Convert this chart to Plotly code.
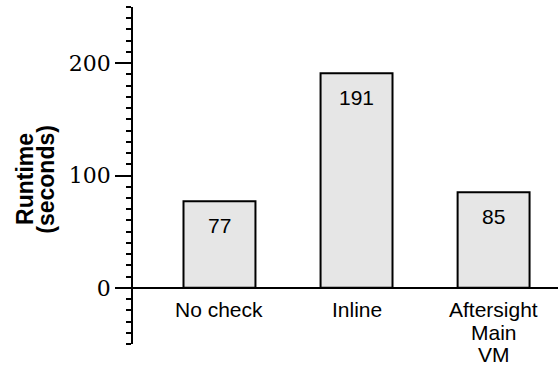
import plotly.graph_objects as go

categories = ["No check", "Inline", "Aftersight<br>Main<br>VM"]
runtimes = [77, 191, 85]
y_tick_vals = [0, 100, 200]
y_tick_text = ["0", "100", "200"]
y_title_lines = ["Runtime", "(seconds)"]

SANS = "Liberation Sans, Arial, sans-serif"
SERIF = "DejaVu Serif, serif"

fig = go.Figure()
fig.add_trace(go.Bar(
    x=list(range(len(categories))),
    y=runtimes,
    width=0.525,
    marker=dict(color="#e6e6e6", line=dict(color="black", width=2)),
    hoverinfo="skip",
))

annotations = []
# value labels inside bars
for i, v in enumerate(runtimes):
    annotations.append(dict(
        x=i, y=v, xref="x", yref="y", text=str(v), showarrow=False,
        yanchor="middle", yshift=-24,
        font=dict(family=SANS, size=21, color="black"),
    ))
# category labels below the x axis line (one annotation per line)
for i, cat in enumerate(categories):
    for j, line in enumerate(cat.split("<br>")):
        annotations.append(dict(
            x=i, y=0, xref="x", yref="y", text=line, showarrow=False,
            yanchor="middle", yshift=-22 - 22.5 * j,
            font=dict(family=SANS, size=21, color="black"),
        ))
# y-axis title, one annotation per line
for j, (line, xpos) in enumerate(zip(y_title_lines, [-0.254, -0.205])):
    annotations.append(dict(
        x=xpos, y=0.49, xref="paper", yref="paper",
        text="<b>" + line + "</b>",
        textangle=-90, showarrow=False, xanchor="center", yanchor="middle",
        font=dict(family=SANS, size=23, color="black"),
    ))

fig.update_layout(
    width=558, height=369,
    margin=dict(l=133, r=0, t=7, b=25),
    plot_bgcolor="white", paper_bgcolor="white",
    showlegend=False,
    annotations=annotations,
    xaxis=dict(
        range=[-0.631, 2.47],
        anchor="free", position=1/6,
        showline=True, linecolor="black", linewidth=1.5,
        showticklabels=False, ticks="", showgrid=False, zeroline=False,
    ),
    yaxis=dict(
        range=[-50, 250],
        showline=True, linecolor="black", linewidth=1.5,
        tickmode="array", tickvals=y_tick_vals, ticktext=y_tick_text,
        ticks="outside", ticklen=16, tickwidth=1.5, tickcolor="black",
        tickfont=dict(family=SERIF, size=22, color="black"),
        showgrid=False, zeroline=False,
        minor=dict(dtick=10, ticks="outside", ticklen=5, tickwidth=1.5,
                   tickcolor="black", showgrid=False),
    ),
)

fig.write_html("out.html", config={"displayModeBar": False},
               post_script="document.body.style.margin='0';")
